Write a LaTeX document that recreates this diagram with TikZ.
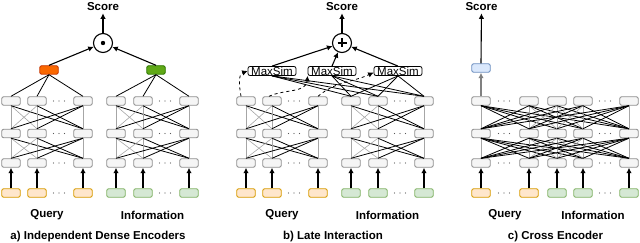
\documentclass[tikz,border=0pt]{standalone}
\usepackage{fontspec}
\setmainfont{Liberation Sans}
\usetikzlibrary{arrows.meta, calc, positioning}
\definecolor{grisCaja}{HTML}{F5F5F5}
\definecolor{grisBorde}{HTML}{8F8F8F}
\definecolor{grisLinea}{HTML}{A6A6A6}
\definecolor{naranjaClaro}{HTML}{FFE6CC}
\definecolor{naranjaBorde}{HTML}{D79B00}
\definecolor{verdeClaro}{HTML}{D5E8D4}
\definecolor{verdeBorde}{HTML}{82B366}
\definecolor{naranjaFuerte}{HTML}{FA6800}
\definecolor{naranjaFuerteBorde}{HTML}{C73500}
\definecolor{verdeFuerte}{HTML}{60A917}
\definecolor{verdeFuerteBorde}{HTML}{2D7600}
\definecolor{azulClaro}{HTML}{DAE8FC}
\definecolor{azulBorde}{HTML}{6C8EBF}

\begin{document}
\begin{tikzpicture}[x=1pt, y=-1pt,
    caja/.style={draw=grisBorde, fill=grisCaja, line width=0.9pt, rounded corners=2pt,
      minimum width=18.5pt, minimum height=8.5pt, inner sep=0pt},
    entQ/.style={caja, draw=naranjaBorde, fill=naranjaClaro},
    entI/.style={caja, draw=verdeBorde, fill=verdeClaro},
    maxsim/.style={draw=black, fill=white, line width=0.8pt, rounded corners=2pt,
      minimum width=48pt, minimum height=9pt, inner sep=0pt,
      font=\fontsize{11.5}{11.5}\selectfont},
    op/.style={circle, draw=black, fill=white, line width=1.1pt, minimum size=19pt, inner sep=0pt},
    etiqueta/.style={inner sep=2pt, font=\fontsize{11.5}{13}\selectfont\bfseries},
    flecha/.style={-{Latex[length=5.5pt, width=5.5pt]}, line width=1.1pt},
    gris/.style={draw=grisLinea, line width=0.6pt},
    negra/.style={draw=black, line width=0.8pt}]
            \useasboundingbox (0,0) rectangle (640,243);

            % Codificadores de a) y b): prefijo / columnas / estilo de entrada
            \foreach \p/\xa/\xb/\xc/\ent in {aq/11/37/83/entQ, ai/116/143/189/entI,
                                             bq/246/272/318/entQ, bi/351/378/424/entI}{
                \foreach \f/\y in {1/101, 2/133.5, 3/163}{
                    \node[caja] (\p-\f-1) at (\xa,\y) {};
                    \node[caja] (\p-\f-2) at (\xb,\y) {};
                    \node[caja] (\p-\f-3) at (\xc,\y) {};
                }
                \node[\ent] (\p-e-1) at (\xa,193) {};
                \node[\ent] (\p-e-2) at (\xb,193) {};
                \node[\ent] (\p-e-3) at (\xc,193) {};

                % Flechas de entrada
                \foreach \c in {1,2,3}
                    \draw[flecha] (\p-e-\c) -- (\p-3-\c);

                % Conexiones entre capas (verticales y vecinas en gris)
                \foreach \f/\g in {1/2, 2/3}
                    \foreach \i in {1,2,3}
                        \foreach \j in {1,2,3}{
                            \pgfmathtruncatemacro{\esgris}{(\i==\j) || (\i+\j==3)}
                            \ifnum\esgris=1 \def\estilo{gris}\else\def\estilo{negra}\fi
                            \draw[\estilo] (\p-\f-\i.south) -- (\p-\g-\j.north);
                        }

                % Puntos suspensivos
                \pgfmathsetmacro{\xm}{(\xb+\xc)/2-1}
                \foreach \y in {101, 133.5, 163, 193}
                    \foreach \k in {0,1,2}
                        \fill[black!65] ({\xm+5.5*(\k-1)},\y) circle (0.6);
            }

            % a) Salidas de cada codificador y producto
            \node[caja, fill=naranjaFuerte, draw=naranjaFuerteBorde] (aq-out) at (49,70) {};
            \node[caja, fill=verdeFuerte, draw=verdeFuerteBorde] (ai-out) at (156,70) {};
            \foreach \c in {1,2,3}{
                \draw[negra] (aq-out.south) -- (aq-1-\c.north);
                \draw[negra] (ai-out.south) -- (ai-1-\c.north);
            }
            \node[op] (prod) at (103,43) {};
            \fill (prod.center) circle (2.2);
            \draw[flecha] (aq-out.north) -- (prod);
            \draw[flecha] (ai-out.north) -- (prod);
            \node[etiqueta] (scoreA) at (103,7) {Score};
            \draw[flecha] (prod) -- (scoreA);

            % b) MaxSim y suma
            \node[maxsim] (ms1) at (272,71) {MaxSim};
            \node[maxsim] (ms2) at (332,71) {MaxSim};
            \node[maxsim] (ms3) at (398,71) {MaxSim};
            \foreach \m in {1,2,3}
                \foreach \c in {1,2,3}
                    \draw[negra] (ms\m.south) -- (bi-1-\c.north);
            \draw[flecha, dashed, line width=0.8pt] ($(bq-1-1.north)+(-5,0)$) to[out=100, in=200] (ms1.west);
            \draw[flecha, dashed, line width=0.8pt] ($(bq-1-2.north)+(-3,0)$) to[out=25, in=-95] (ms2.south west);
            \draw[flecha, dashed, line width=0.8pt] (bq-1-3.north) to[out=40, in=205] ($(ms3.west)+(0,1.5)$);
            \node[op] (suma) at (342,43) {};
            \draw[line width=1.8pt] (suma.center) +(-4.5,0) -- +(4.5,0)
                                    (suma.center) +(0,-4.5) -- +(0,4.5);
            \foreach \m in {1,2,3}
                \draw[flecha] (ms\m.north) -- (suma);
            \node[etiqueta] (scoreB) at (342,7) {Score};
            \draw[flecha] (suma) -- (scoreB);

            % c) Codificador cruzado
            \foreach \c/\x in {1/481, 2/529, 3/557, 4/583, 5/629}{
                \foreach \f/\y in {1/101, 2/133.5, 3/163}
                    \node[caja] (c-\f-\c) at (\x,\y) {};
                \ifnum\c<3 \def\ent{entQ}\else\def\ent{entI}\fi
                \node[\ent] (c-e-\c) at (\x,193) {};
                \draw[flecha] (c-e-\c) -- (c-3-\c);
            }
            \foreach \f/\g in {1/2, 2/3}
                \foreach \i in {1,...,5}
                    \foreach \j in {1,...,5}{
                        \pgfmathtruncatemacro{\esgris}{(\i==\j) || (abs(\i-\j)==1 && \i+\j>4 && \i+\j<8)}
                        \ifnum\esgris=1 \def\estilo{gris}\else\def\estilo{negra}\fi
                        \draw[\estilo] (c-\f-\i.south) -- (c-\g-\j.north);
                    }
            \foreach \xm in {504, 605}
                \foreach \y in {101, 133.5, 163, 193}
                    \foreach \k in {0,1,2}
                        \fill[black!65] ({\xm+5.5*(\k-1)},\y) circle (0.6);
            \node[caja, fill=azulClaro, draw=azulBorde] (c-out) at (481,68) {};
            \draw[flecha, draw=gray, fill=gray] (c-1-1.north) -- (c-out.south);
            \node[etiqueta] (scoreC) at (481.5,7) {Score};
            \draw[flecha] (c-out.north) -- (scoreC);

            % Etiquetas
            \node[etiqueta] (qA) at (47,215) {Query};
            \node[etiqueta] (iA) at (152.5,215) {Information};
            \node[etiqueta] (qB) at (282,215) {Query};
            \node[etiqueta] (iB) at (387.5,215) {Information};
            \node[etiqueta] (qC) at (505,215) {Query};
            \node[etiqueta] (iC) at (593,215) {Information};
            \node[etiqueta] (capA) at (98,237) {a) Independent Dense Encoders};
            \node[etiqueta] (capB) at (333,237) {b) Late Interaction};
            \node[etiqueta] (capC) at (555.5,237) {c) Cross Encoder};
        \end{tikzpicture}
\end{document}
